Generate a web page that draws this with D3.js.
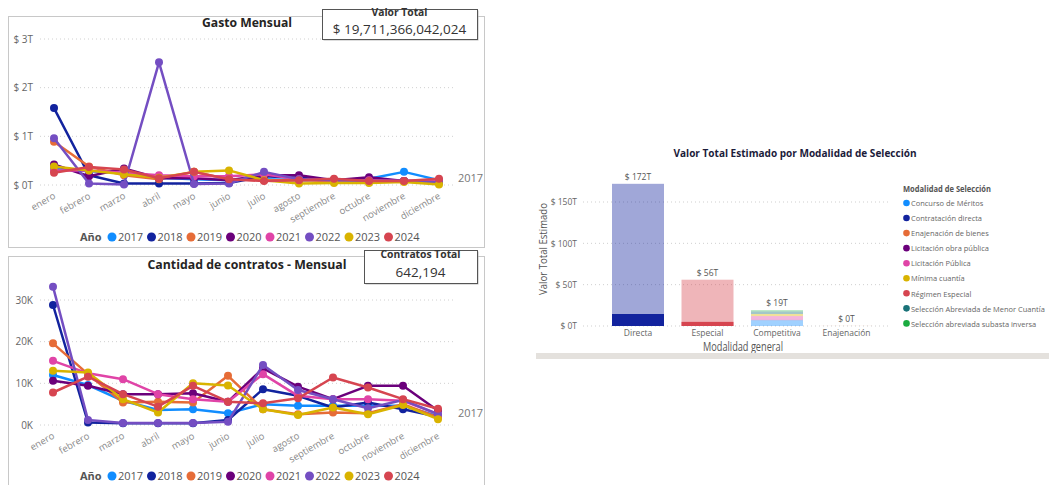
<!DOCTYPE html>
<html><head><meta charset="utf-8">
<script src="https://cdn.jsdelivr.net/npm/d3@7/dist/d3.min.js"></script>
<style>
body{margin:0;background:#fff;}
svg{display:block;font-family:"Open Sans","Noto Sans",sans-serif;}
</style></head><body>
<svg id="c" width="1049" height="485"></svg>
<script>
const months = ["enero","febrero","marzo","abril","mayo","junio","julio","agosto","septiembre","octubre","noviembre","diciembre"];
const years = ["2017","2018","2019","2020","2021","2022","2023","2024"];
const yearColors = ["#118DFF","#12239E","#E66C37","#6B007B","#E044A7","#744EC2","#D9B300","#D64550"];

// Gasto mensual (billones, T)
const gasto2017 = [0.34,0.28,0.25,0.15,0.12,0.10,0.12,0.10,0.10,0.13,0.27,0.10];
const gasto2018 = [1.58,0.20,0.03,0.03,0.03,0.04,0.18,0.15,0.10,0.10,0.08,0.06];
const gasto2019 = [0.89,0.38,0.20,0.12,0.27,0.12,0.10,0.10,0.08,0.08,0.08,0.07];
const gasto2020 = [0.42,0.18,0.34,0.14,0.14,0.10,0.20,0.20,0.10,0.16,0.08,0.08];
const gasto2021 = [0.30,0.30,0.25,0.20,0.18,0.18,0.22,0.12,0.10,0.10,0.08,0.10];
const gasto2022 = [0.96,0.03,0.01,2.52,0.02,0.03,0.27,0.12,0.10,0.08,0.08,0.05];
const gasto2023 = [0.38,0.30,0.22,0.15,0.27,0.30,0.10,0.03,0.04,0.04,0.06,0.01];
const gasto2024 = [0.25,0.37,0.32,0.14,0.27,0.12,0.08,0.10,0.13,0.08,0.08,0.13];
const gastoTicks = [0,1,2,3];

// Cantidad de contratos mensual (miles, K)
const contratos2017 = [12.0,9.6,5.8,3.6,3.8,2.8,5.0,4.6,4.6,4.6,4.6,2.2];
const contratos2018 = [28.8,0.6,0.4,0.4,0.4,1.2,8.6,7.0,4.2,5.4,3.8,2.0];
const contratos2019 = [19.6,12.2,5.4,5.6,5.4,11.8,3.8,2.6,3.0,2.8,5.0,1.8];
const contratos2020 = [10.6,9.4,7.4,7.4,7.6,5.6,13.6,9.2,6.2,9.4,9.4,3.4];
const contratos2021 = [15.4,12.4,11.0,7.4,6.2,5.6,12.2,7.0,6.2,6.2,5.8,2.6];
const contratos2022 = [33.2,1.2,0.5,0.5,0.5,0.8,14.4,8.4,6.2,4.0,6.0,2.6];
const contratos2023 = [13.0,12.6,6.2,3.0,10.0,9.5,3.8,2.4,4.2,2.6,4.8,1.4];
const contratos2024 = [7.8,11.6,7.4,4.4,9.4,5.6,5.2,6.4,11.4,9.0,6.2,3.9];
const contratosTicks = [0,10,20,30];

// Valor total estimado por modalidad (T)
const modalidadesGenerales = ["Directa","Especial","Competitiva","Enajenación"];
const modalidades = ["Concurso de Méritos","Contratación directa","Enajenación de bienes","Licitación obra pública","Licitación Pública","Mínima cuantía","Régimen Especial","Selección Abreviada de Menor Cuantía","Selección abreviada subasta inversa"];
const modalidadColors = ["#118DFF","#12239E","#E66C37","#6B007B","#E044A7","#D9B300","#D64550","#197278","#1AAB40"];
const valorDirecta     = [0,172,0,0,0,0,0,0,0];
const valorEspecial    = [0,0,0,0,0,0,56,0,0];
const valorCompetitiva = [7,0,0,0.5,4.5,2.5,0,3,1.5];
const valorEnajenacion = [0,0,0.1,0,0,0,0,0,0];
const resaltadoDirecta     = [0,14.5,0,0,0,0,0,0,0];
const resaltadoEspecial    = [0,0,0,0,0,0,5,0,0];
const resaltadoCompetitiva = [0,0,0,0,0,0,0,0,0];
const resaltadoEnajenacion = [0,0,0,0,0,0,0,0,0];
const valorLabels = ["$ 172T","$ 56T","$ 19T","$ 0T"];
const valorTicks = [0,50,100,150];

const svg = d3.select("#c");
const gray = "#666";

function fit(sel, w){
  const l = sel.node().getComputedTextLength();
  if(l > w){
    sel.attr("textLength", w.toFixed(1)).attr("lengthAdjust","spacingAndGlyphs");
  }
  return sel;
}

function panel(x,y,w,h){
  svg.append("rect").attr("x",x+0.5).attr("y",y+0.5).attr("width",w).attr("height",h)
    .attr("fill","#fff").attr("stroke","#c8c8c8");
}
function card(x,y,w,h,t1,t2,w1,w2,b1,b2){
  svg.append("rect").attr("x",x+1.5).attr("y",y+1.5).attr("width",w).attr("height",h).attr("fill","#bbb");
  svg.append("rect").attr("x",x+0.5).attr("y",y+0.5).attr("width",w).attr("height",h)
    .attr("fill","#fff").attr("stroke","#555").attr("stroke-width",1);
  fit(svg.append("text").attr("x",x+w/2).attr("y",b1).attr("text-anchor","middle")
    .attr("font-size",10.5).attr("font-weight","bold").attr("fill","#333").text(t1), w1);
  fit(svg.append("text").attr("x",x+w/2).attr("y",b2).attr("text-anchor","middle")
    .attr("font-size",13.5).attr("fill","#333").text(t2), w2);
}

function lineChart(opt){
  const {series, ticks, fmt, y0, y1, vmax, title, titleY, legendY, x0, x1, titleW} = opt;
  const x = d3.scalePoint().domain(months).range([x0,x1]);
  const y = d3.scaleLinear().domain([0,vmax]).range([y0,y1]);
  const g = svg.append("g");
  g.selectAll(".gl").data(ticks).join("line")
    .attr("x1",40).attr("x2",455).attr("y1",d=>y(d)).attr("y2",d=>y(d))
    .attr("stroke","#d0d0d0").attr("stroke-dasharray","1,3");
  const ya = d3.axisLeft(y).tickValues(ticks).tickFormat(fmt).tickSize(0).tickPadding(0);
  const yg = g.append("g").attr("transform","translate(33,0)").call(ya);
  yg.select(".domain").remove();
  yg.selectAll("text").attr("font-size",10).attr("fill",gray).attr("font-family","Open Sans");
  const xa = d3.axisBottom(x).tickSize(0).tickPadding(0);
  const xg = g.append("g").attr("transform",`translate(0,${y0+6})`).call(xa);
  xg.select(".domain").remove();
  xg.selectAll("text").attr("font-size",9.5).attr("fill","#888").attr("font-family","Open Sans")
    .attr("text-anchor","end").attr("dy","0.7em").attr("dx","-2")
    .attr("transform","rotate(-30)");
  fit(g.append("text").attr("x",247).attr("y",titleY).attr("text-anchor","middle")
    .attr("font-size",13).attr("font-weight","bold").attr("fill","#252423").text(title), titleW);
  const line = d3.line().x((d,i)=>x(months[i])).y(d=>y(d));
  series.forEach((s,k)=>{
    g.append("path").attr("d",line(s)).attr("fill","none").attr("stroke",yearColors[k])
      .attr("stroke-width",2.5).attr("stroke-linejoin","round");
    g.selectAll(null).data(s).join("circle")
      .attr("cx",(d,i)=>x(months[i])).attr("cy",d=>y(d)).attr("r",4).attr("fill",yearColors[k]);
  });
  g.append("text").attr("x",458).attr("y",opt.endLabelY).attr("font-size",11).attr("fill","#777").text("2017");
  const lg = g.append("g").attr("transform",`translate(0,${legendY})`);
  lg.append("text").attr("x",80).attr("y",4).attr("font-size",11).attr("font-weight","bold").attr("fill","#555").text("Año");
  years.forEach((yr,i)=>{
    const cx = 112 + i*39.5;
    lg.append("circle").attr("cx",cx).attr("cy",0).attr("r",4.5).attr("fill",yearColors[i]);
    lg.append("text").attr("x",cx+6).attr("y",4).attr("font-size",11).attr("fill","#555").text(yr);
  });
}

panel(8,16,476,231);
lineChart({series:[gasto2017,gasto2018,gasto2019,gasto2020,gasto2021,gasto2022,gasto2023,gasto2024],
  ticks:gastoTicks, fmt:d=>`$ ${d}T`, y0:185, y1:39, vmax:3, title:"Gasto Mensual", titleY:27, titleW:90,
  legendY:237, x0:54, x1:439, endLabelY:182});
card(322,9,155,30,"Valor Total","$ 19,711,366,042,024",56,136,16,33.5);

panel(8,256,476,240);
lineChart({series:[contratos2017,contratos2018,contratos2019,contratos2020,contratos2021,contratos2022,contratos2023,contratos2024],
  ticks:contratosTicks, fmt:d=>`${d}K`, y0:425, y1:300, vmax:30, title:"Cantidad de contratos - Mensual", titleY:269, titleW:199,
  legendY:476, x0:53, x1:438, endLabelY:417});
card(364,250,113,33,"Contratos Total","642,194",80,50,258,276.5);

// ---------- Bar chart ----------
(function(){
  const g = svg.append("g");
  const x = d3.scaleBand().domain(modalidadesGenerales).range([594.5,890]).paddingInner(0.252).paddingOuter(0.252);
  const y = d3.scaleLinear().domain([0,150]).range([326,202]);
  fit(g.append("text").attr("x",795).attr("y",157).attr("text-anchor","middle")
    .attr("font-size",11).attr("font-weight","bold").attr("fill","#1b1b3a")
    .text("Valor Total Estimado por Modalidad de Selección"), 243);
  g.selectAll(".gl").data(valorTicks).join("line")
    .attr("x1",583).attr("x2",890).attr("y1",d=>y(d)).attr("y2",d=>y(d))
    .attr("stroke","#cfcfcf").attr("stroke-dasharray","1,3");
  const ya = d3.axisLeft(y).tickValues(valorTicks).tickFormat(d=>`$ ${d}T`).tickSize(0).tickPadding(0);
  const yg = g.append("g").attr("transform","translate(577,0)").call(ya);
  yg.select(".domain").remove();
  yg.selectAll("text").attr("font-size",8.5).attr("fill",gray).attr("font-family","Open Sans");
  const xa = d3.axisBottom(x).tickSize(0).tickPadding(0);
  const xg = g.append("g").attr("transform","translate(0,330)").call(xa);
  xg.select(".domain").remove();
  xg.selectAll("text").attr("font-size",8.5).attr("fill",gray).attr("font-family","Open Sans").attr("dy","0.71em");
  fit(g.append("text").attr("x",743).attr("y",351).attr("text-anchor","middle").attr("font-size",12).attr("fill","#555").text("Modalidad general"), 80);
  fit(g.append("text").attr("transform","translate(547,249) rotate(-90)").attr("text-anchor","middle")
    .attr("font-size",11).attr("fill","#555").text("Valor Total Estimado"), 92);

  const totals = [valorDirecta,valorEspecial,valorCompetitiva,valorEnajenacion];
  const highs = [resaltadoDirecta,resaltadoEspecial,resaltadoCompetitiva,resaltadoEnajenacion];
  totals.forEach((arr,ci)=>{
    const cat = modalidadesGenerales[ci];
    let acc = 0;
    arr.forEach((v,mi)=>{
      if(v<=0) return;
      g.append("rect").attr("x",x(cat)).attr("width",x.bandwidth())
        .attr("y",y(acc+v)).attr("height",Math.max(0,y(acc)-y(acc+v)))
        .attr("fill",modalidadColors[mi]).attr("fill-opacity",0.4);
      acc += v;
    });
    let hacc = 0;
    highs[ci].forEach((v,mi)=>{
      if(v<=0) return;
      g.append("rect").attr("x",x(cat)).attr("width",x.bandwidth())
        .attr("y",y(hacc+v)).attr("height",y(hacc)-y(hacc+v)).attr("fill",modalidadColors[mi]);
      hacc += v;
    });
    g.append("text").attr("x",x(cat)+x.bandwidth()/2).attr("y",y(acc)-4).attr("text-anchor","middle")
      .attr("font-size",8.5).attr("fill","#555").text(valorLabels[ci]);
  });
  const lg = g.append("g");
  fit(lg.append("text").attr("x",903).attr("y",192).attr("font-size",9.5).attr("font-weight","bold").attr("fill","#555").text("Modalidad de Selección"), 88);
  const items = modalidades.map((m,i)=>{
    const cy = 203 + i*15.05;
    lg.append("circle").attr("cx",906.5).attr("cy",cy).attr("r",3.3).attr("fill",modalidadColors[i]);
    return lg.append("text").attr("x",911).attr("y",cy+3.2).attr("font-size",9.5).attr("fill","#666").text(m);
  });
  const longest = d3.max(items, t=>t.node().getComputedTextLength());
  const fs = Math.min(9.5, 9.5*134/longest);
  items.forEach(t=>t.attr("font-size",fs.toFixed(2)));
  svg.append("rect").attr("x",536).attr("y",353).attr("width",513).attr("height",6).attr("fill","#e4e1dd");
})();
</script>
</body></html>
